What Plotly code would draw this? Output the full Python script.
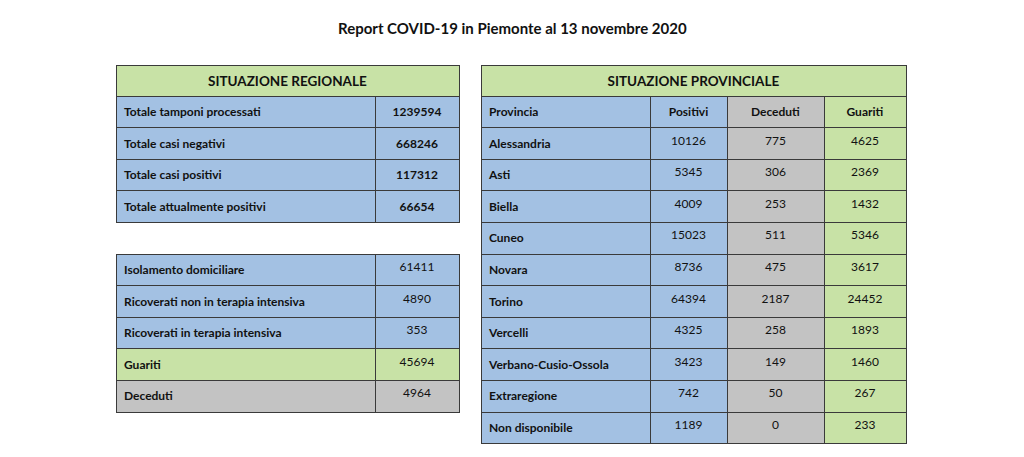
import plotly.graph_objects as go

title = "Report COVID-19 in Piemonte al 13 novembre 2020"
reg_labels = ["Totale tamponi processati", "Totale casi negativi", "Totale casi positivi", "Totale attualmente positivi"]
reg_values = ["1239594", "668246", "117312", "66654"]
det_labels = ["Isolamento domiciliare", "Ricoverati non in terapia intensiva", "Ricoverati in terapia intensiva", "Guariti", "Deceduti"]
det_values = ["61411", "4890", "353", "45694", "4964"]
prov_cols = ["Provincia", "Positivi", "Deceduti", "Guariti"]
province = ["Alessandria", "Asti", "Biella", "Cuneo", "Novara", "Torino", "Vercelli",
            "Verbano-Cusio-Ossola", "Extraregione", "Non disponibile"]
positivi = ["10126", "5345", "4009", "15023", "8736", "64394", "4325", "3423", "742", "1189"]
deceduti = ["775", "306", "253", "511", "475", "2187", "258", "149", "50", "0"]
guariti = ["4625", "2369", "1432", "5346", "3617", "24452", "1893", "1460", "267", "233"]

W, H = 1024, 457
OFF = 8  # page body offset
BLUE, GREEN, GRAY = "#a3c1e3", "#c8e2a6", "#c3c3c3"
LINE = "#3a3a3a"
RH = 31.6
FONT = "Lato"
FS = 12

def dom(x0, x1, ytop):
    x0 -= OFF; x1 -= OFF; ytop -= OFF
    return dict(x=[x0 / W, x1 / W], y=[max(0, 1 - (ytop + RH + 4) / H), 1 - ytop / H])

def b(s):
    return "<b>" + s + "</b>"

fig = go.Figure()

def row(x0, x1, ytop, vals, widths, fills, aligns, size=FS):
    fig.add_trace(go.Table(
        domain=dom(x0, x1, ytop), columnwidth=widths,
        header=dict(values=vals, fill_color=fills, line_color=LINE, height=RH, align=aligns,
                    font=dict(family=FONT, size=size, color="#111")),
        cells=dict(values=[[] for _ in vals], height=RH)))

# Regional
row(116, 459, 65, [b("SITUAZIONE REGIONALE")], [1], [GREEN], ["center"], 13.5)
for i, (l, v) in enumerate(zip(reg_labels, reg_values)):
    row(116, 459, 96 + i * RH, [b(l), b(v)], [259, 84], [BLUE, BLUE], ["left", "center"])

det_fill = [BLUE, BLUE, BLUE, GREEN, GRAY]
for i, (l, v) in enumerate(zip(det_labels, det_values)):
    row(116, 459, 254 + i * RH, [b(l), v], [259, 84], [det_fill[i]] * 2, ["left", "center"])

# Provincial
col_fill = [BLUE, BLUE, GRAY, GREEN]
al = ["left", "center", "center", "center"]
wid = [169, 77, 97, 82]
row(481, 906, 65, [b("SITUAZIONE PROVINCIALE")], [1], [GREEN], ["center"], 13.5)
row(481, 906, 96, [b(c) for c in prov_cols], wid, col_fill, al)
for i in range(len(province)):
    row(481, 906, 96 + (i + 1) * RH, [b(province[i]), positivi[i], deceduti[i], guariti[i]],
        wid, col_fill, al)

fig.update_layout(
    width=W, height=H, margin=dict(l=0, r=0, t=0, b=0),
    paper_bgcolor="white", plot_bgcolor="white",
    annotations=[dict(text=b(title), x=(512 - OFF) / W, y=1 - (28 - OFF) / H, xref="paper", yref="paper",
                      xanchor="center", yanchor="middle",
                      showarrow=False, font=dict(family=FONT, size=15, color="#111"))],
)
fig.write_html("out.html")
